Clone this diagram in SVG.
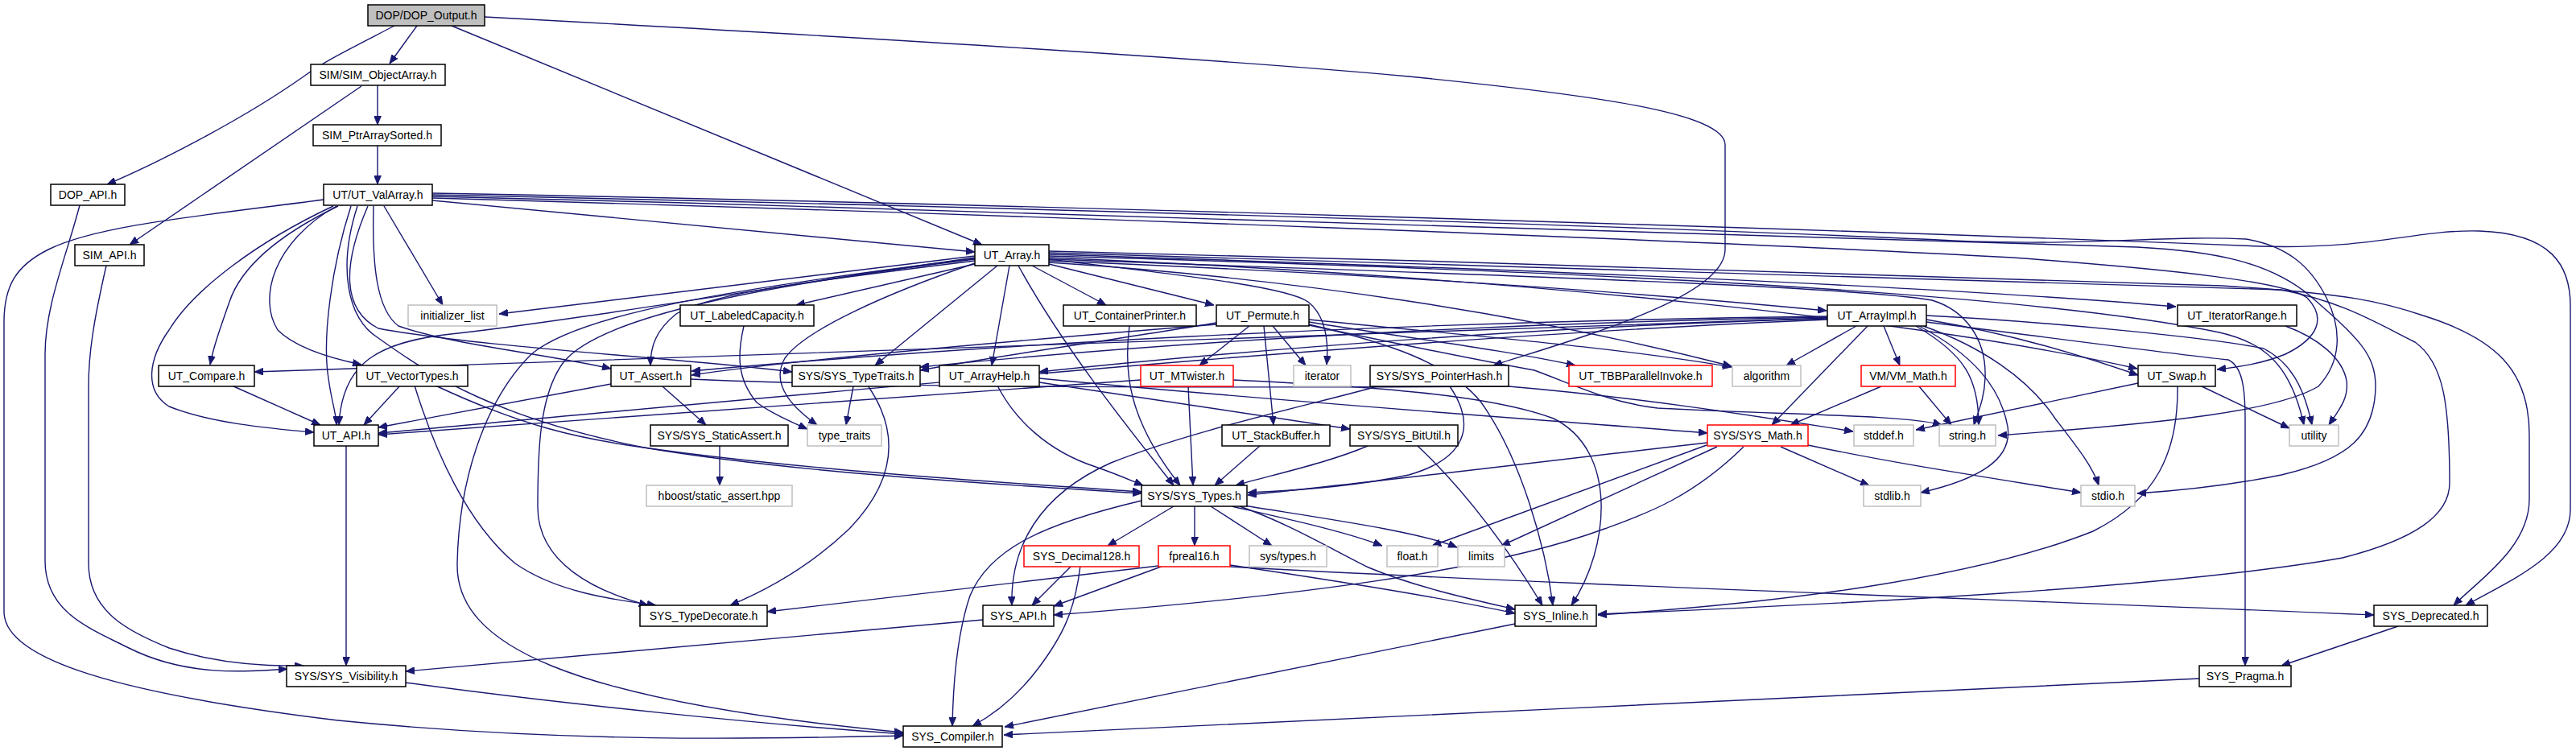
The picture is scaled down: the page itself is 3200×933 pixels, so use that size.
<svg xmlns="http://www.w3.org/2000/svg" width="3200" height="933" viewBox="0 0 3200 933">
<defs>
<marker id="arr" viewBox="0 0 11 9" refX="11" refY="4.5" markerWidth="11" markerHeight="9" orient="auto" markerUnits="userSpaceOnUse"><path d="M0,0 L11,4.5 L0,9 z" fill="#191970" stroke="#191970" stroke-width="0.8"/></marker>
</defs>
<style>
.e path{fill:none;stroke:#191970;stroke-width:1.4;marker-end:url(#arr)}
.n rect{fill:#ffffff;stroke:#000000;stroke-width:1.5}
.n.root rect{fill:#bfbfbf}
.n.g rect{stroke:#bfbfbf}
.n.r rect{stroke:#ff0000}
.n text{font-family:"Liberation Sans",Arial,sans-serif;font-size:14px;text-anchor:middle;fill:#000}
</style>
<rect width="3200" height="933" fill="#ffffff"/>
<g id="edges" class="e">
<path d="M518,32 L484,79"/>
<path d="M490,32 C440,58 405,75 380,93 C300,150 190,205 133,229"/>
<path d="M561,32 L1220,304"/>
<path d="M602,21 C1100,48 1500,72 1750,95 C1980,118 2143,140 2143,180 L2143,310 C2143,370 1960,420 1855,454"/>
<path d="M469,106 L469,155"/>
<path d="M449,107 L161,304"/>
<path d="M469,181 L469,229"/>
<path d="M99,255 C82,320 56,380 56,440 L56,697 C56,760 110,780 160,805 C230,840 300,835 357,831"/>
<path d="M132,330 C116,400 110,440 110,480 L110,700 C110,760 160,785 210,805 C270,825 330,828 377,827"/>
<path d="M402,248 C250,268 120,280 60,310 C20,330 5,355 5,400 L5,760 C5,820 150,862 420,895 C720,925 980,917 1122,914"/>
<path d="M420,256 C350,290 300,330 285,375 C272,412 265,432 261,453"/>
<path d="M414,256 C320,300 240,360 210,410 C185,445 178,485 210,505 C260,525 330,532 390,537"/>
<path d="M418,256 C340,300 320,370 345,410 C370,435 420,447 449,453"/>
<path d="M436,256 C412,330 400,420 408,470 C412,500 418,515 418,528"/>
<path d="M477,256 L550,379"/>
<path d="M537,249 L1211,313"/>
<path d="M464,256 C462,330 468,385 495,405 C560,428 680,440 759,458"/>
<path d="M457,256 C425,330 425,385 470,408 C600,432 850,445 984,462"/>
<path d="M444,256 C420,330 430,395 470,420 C540,470 620,520 800,556 C1000,590 1300,605 1418,613"/>
<path d="M537,240 C1200,252 2200,282 2808,306 C2950,310 3000,285 3080,287 C3170,290 3193,330 3193,380 L3193,633 C3193,690 3120,720 3063,752"/>
<path d="M537,242 C1300,258 2100,283 2450,300 C2600,305 2700,292 2790,297 C2840,305 2870,330 2890,370 C2910,410 2908,450 2880,480 C2830,510 2700,525 2482,541"/>
<path d="M537,244 C1300,262 2100,292 2655,307 C2750,312 2818,325 2869,367 C2930,420 2951,440 2951,480 C2950,540 2920,570 2834,590 C2760,605 2700,610 2655,613"/>
<path d="M537,246 C1300,268 2100,298 2500,320 C2700,335 2840,350 2866,370 C2890,395 2880,420 2839,440 C2810,452 2780,456 2754,459"/>
<path d="M1303,312 C1800,325 2400,340 2760,355 C2920,365 2960,375 3010,392 C3100,420 3142,460 3142,540 L3142,620 C3142,680 3080,720 3048,752"/>
<path d="M1303,314 C1800,330 2300,345 2834,360 C2910,375 2950,400 3000,425 C3035,450 3043,500 3043,600 C3043,640 3000,670 2910,693 C2700,730 2300,750 1985,763"/>
<path d="M1303,316 C1900,335 2400,355 2703,381"/>
<path d="M1303,318 C1900,335 2500,360 2757,413 C2810,425 2845,450 2862,528"/>
<path d="M1303,320 C1900,345 2400,400 2655,458"/>
<path d="M1303,322 C1800,340 2300,355 2400,373 C2440,385 2468,420 2466,470 C2465,495 2458,510 2452,528"/>
<path d="M1303,324 C1700,340 2000,360 2269,386"/>
<path d="M1303,326 C1600,345 1900,390 2151,455"/>
<path d="M1303,322 C1450,340 1597,355 1625,375 C1650,395 1650,430 1648,453"/>
<path d="M1303,328 L1508,379"/>
<path d="M1282,330 L1374,379"/>
<path d="M1265,330 C1320,430 1400,530 1458,603"/>
<path d="M1254,330 L1232,454"/>
<path d="M1239,330 L1087,454"/>
<path d="M1211,327 C1100,365 1000,410 975,445 C955,480 990,510 1015,528"/>
<path d="M1211,328 L989,379"/>
<path d="M1211,324 C1000,350 880,365 840,390 C815,410 808,430 808,454"/>
<path d="M1211,320 C1000,350 700,400 560,415 C470,425 425,450 421,528"/>
<path d="M1211,318 L620,390"/>
<path d="M1211,322 C900,360 740,400 700,450 C670,490 668,560 668,630 C668,700 740,735 805,752"/>
<path d="M1211,321 C900,360 720,390 660,440 C600,500 570,600 568,700 C566,800 700,870 1122,910"/>
<path d="M2306,405 L2219,454"/>
<path d="M2320,405 L2201,528"/>
<path d="M2340,405 L2360,454"/>
<path d="M2380,405 C2440,440 2458,470 2458,528"/>
<path d="M2384,405 C2450,440 2485,480 2494,530 C2500,570 2460,595 2386,612"/>
<path d="M2389,405 C2460,430 2520,470 2553,520 C2580,555 2600,580 2607,603"/>
<path d="M2393,397 C2500,415 2580,440 2656,466"/>
<path d="M2393,400 C2550,420 2700,440 2768,447 C2785,455 2789,480 2789,520 L2789,827"/>
<path d="M2393,392 C2550,400 2750,420 2812,433 C2845,450 2862,480 2872,528"/>
<path d="M2270,397 C1700,420 900,500 470,538"/>
<path d="M2270,395 C1700,410 1000,440 316,462"/>
<path d="M2270,393 C1700,400 1200,430 859,461"/>
<path d="M2270,394 C1800,402 1400,430 1143,456"/>
<path d="M2270,396 C1900,405 1500,440 1291,462"/>
<path d="M1511,403 C1300,420 1000,445 859,466"/>
<path d="M1511,401 C1400,420 1250,440 1143,460"/>
<path d="M1552,405 L1490,454"/>
<path d="M1570,405 L1582,528"/>
<path d="M1581,405 L1622,454"/>
<path d="M1626,397 C1800,415 2000,430 2151,456"/>
<path d="M1626,400 C1750,420 1870,435 1957,454"/>
<path d="M1626,403 C1720,425 1800,450 1840,500 C1890,570 1920,680 1929,752"/>
<path d="M1626,404 C1750,430 1850,450 1906,460 C1960,480 2000,500 2059,507 C2200,515 2370,515 2412,528"/>
<path d="M1403,405 C1396,460 1400,520 1466,603"/>
<path d="M924,405 C916,440 915,470 940,500 C960,515 985,525 1003,533"/>
<path d="M288,479 L398,528"/>
<path d="M497,479 L452,528"/>
<path d="M541,479 C650,530 720,545 800,556 C1000,585 1300,603 1418,611"/>
<path d="M515,479 C540,560 580,650 640,700 C690,735 760,745 815,752"/>
<path d="M823,480 L877,528"/>
<path d="M759,477 L470,531"/>
<path d="M858,471 C1100,482 1500,482 1874,480 C2050,495 2200,520 2302,536"/>
<path d="M1060,480 L1051,528"/>
<path d="M1078,479 C1120,540 1110,600 1055,657 C1010,700 960,730 907,752"/>
<path d="M1239,479 C1260,520 1300,560 1361,580 C1390,590 1405,597 1420,603"/>
<path d="M1291,475 L1677,533"/>
<path d="M1291,470 C1600,500 1900,520 2121,538"/>
<path d="M1476,480 L1482,603"/>
<path d="M1417,472 L470,540"/>
<path d="M1532,472 C1700,480 1850,490 1930,520 C2010,560 2000,680 1952,752"/>
<path d="M1565,554 L1509,603"/>
<path d="M1699,554 C1650,575 1580,590 1535,603"/>
<path d="M1761,554 C1810,600 1860,660 1916,752"/>
<path d="M1801,480 C1835,530 1820,570 1750,590 C1680,605 1600,610 1550,612"/>
<path d="M1715,479 C1620,505 1480,535 1380,575 C1290,615 1255,680 1257,752"/>
<path d="M2121,550 C1900,575 1700,600 1550,615"/>
<path d="M2120,553 L1779,678"/>
<path d="M2133,555 L1865,678"/>
<path d="M2166,555 C2100,620 2040,640 1993,657 C1850,710 1600,742 1309,764"/>
<path d="M2212,555 L2322,603"/>
<path d="M2246,553 C2350,575 2450,590 2585,612"/>
<path d="M2337,480 L2224,528"/>
<path d="M2384,480 L2424,528"/>
<path d="M1458,629 L1376,678"/>
<path d="M1484,629 L1484,678"/>
<path d="M1504,629 L1580,678"/>
<path d="M1418,622 C1300,650 1230,680 1205,740 C1188,790 1184,850 1183,902"/>
<path d="M1530,629 C1600,645 1670,660 1717,678"/>
<path d="M1545,628 C1650,645 1760,660 1810,680"/>
<path d="M1540,629 C1600,650 1650,680 1700,705 C1760,730 1830,745 1882,757"/>
<path d="M1331,703 L1282,752"/>
<path d="M1342,703 C1335,760 1320,790 1290,830 C1260,870 1230,890 1208,902"/>
<path d="M1445,703 L1309,753"/>
<path d="M1439,703 L953,760"/>
<path d="M1528,702 C1650,720 1780,740 1882,762"/>
<path d="M1528,704 C1900,725 2500,745 2949,764"/>
<path d="M1221,770 L504,834"/>
<path d="M430,554 L430,827"/>
<path d="M504,848 C700,875 950,900 1122,912"/>
<path d="M1882,775 L1248,903"/>
<path d="M2732,843 C2300,862 1700,893 1247,913"/>
<path d="M2979,778 L2834,827"/>
<path d="M2656,476 L2380,534"/>
<path d="M2733,479 L2844,532"/>
<path d="M2705,480 C2706,560 2680,620 2600,660 C2450,720 2200,750 1985,764"/>
<path d="M2839,405 C2880,420 2910,445 2915,473 C2918,495 2905,510 2893,528"/>
<path d="M894,554 L894,603"/>
</g>
<g id="n0" class="n root"><rect x="457" y="6" width="145" height="26"/><text x="529.5" y="24">DOP/DOP_Output.h</text></g>
<g id="n1" class="n"><rect x="386" y="80" width="167" height="26"/><text x="469.5" y="98">SIM/SIM_ObjectArray.h</text></g>
<g id="n2" class="n"><rect x="389" y="155" width="159" height="26"/><text x="468.5" y="173">SIM_PtrArraySorted.h</text></g>
<g id="n3" class="n"><rect x="63" y="229" width="92" height="26"/><text x="109" y="247">DOP_API.h</text></g>
<g id="n4" class="n"><rect x="402" y="229" width="135" height="26"/><text x="469.5" y="247">UT/UT_ValArray.h</text></g>
<g id="n5" class="n"><rect x="93" y="304" width="86" height="26"/><text x="136" y="322">SIM_API.h</text></g>
<g id="n6" class="n"><rect x="1211" y="304" width="92" height="26"/><text x="1257" y="322">UT_Array.h</text></g>
<g id="n7" class="n g"><rect x="507" y="379" width="110" height="26"/><text x="562" y="397">initializer_list</text></g>
<g id="n8" class="n"><rect x="845" y="379" width="166" height="26"/><text x="928" y="397">UT_LabeledCapacity.h</text></g>
<g id="n9" class="n"><rect x="1321" y="379" width="165" height="26"/><text x="1403.5" y="397">UT_ContainerPrinter.h</text></g>
<g id="n10" class="n"><rect x="1511" y="379" width="115" height="26"/><text x="1568.5" y="397">UT_Permute.h</text></g>
<g id="n11" class="n"><rect x="2270" y="379" width="123" height="26"/><text x="2331.5" y="397">UT_ArrayImpl.h</text></g>
<g id="n12" class="n"><rect x="2705" y="379" width="148" height="26"/><text x="2779" y="397">UT_IteratorRange.h</text></g>
<g id="n13" class="n"><rect x="197" y="454" width="119" height="26"/><text x="256.5" y="472">UT_Compare.h</text></g>
<g id="n14" class="n"><rect x="443" y="454" width="138" height="26"/><text x="512" y="472">UT_VectorTypes.h</text></g>
<g id="n15" class="n"><rect x="759" y="454" width="99" height="26"/><text x="808.5" y="472">UT_Assert.h</text></g>
<g id="n16" class="n"><rect x="984" y="454" width="159" height="26"/><text x="1063.5" y="472">SYS/SYS_TypeTraits.h</text></g>
<g id="n17" class="n"><rect x="1167" y="454" width="124" height="26"/><text x="1229" y="472">UT_ArrayHelp.h</text></g>
<g id="n18" class="n r"><rect x="1417" y="454" width="115" height="26"/><text x="1474.5" y="472">UT_MTwister.h</text></g>
<g id="n19" class="n g"><rect x="1607" y="454" width="71" height="26"/><text x="1642.5" y="472">iterator</text></g>
<g id="n20" class="n"><rect x="1702" y="454" width="172" height="26"/><text x="1788" y="472">SYS/SYS_PointerHash.h</text></g>
<g id="n21" class="n r"><rect x="1949" y="454" width="178" height="26"/><text x="2038" y="472">UT_TBBParallelInvoke.h</text></g>
<g id="n22" class="n g"><rect x="2152" y="454" width="85" height="26"/><text x="2194.5" y="472">algorithm</text></g>
<g id="n23" class="n r"><rect x="2312" y="454" width="117" height="26"/><text x="2370.5" y="472">VM/VM_Math.h</text></g>
<g id="n24" class="n"><rect x="2656" y="454" width="96" height="26"/><text x="2704" y="472">UT_Swap.h</text></g>
<g id="n25" class="n"><rect x="390" y="528" width="80" height="26"/><text x="430" y="546">UT_API.h</text></g>
<g id="n26" class="n"><rect x="808" y="528" width="171" height="26"/><text x="893.5" y="546">SYS/SYS_StaticAssert.h</text></g>
<g id="n27" class="n g"><rect x="1003" y="528" width="92" height="26"/><text x="1049" y="546">type_traits</text></g>
<g id="n28" class="n"><rect x="1518" y="528" width="134" height="26"/><text x="1585" y="546">UT_StackBuffer.h</text></g>
<g id="n29" class="n"><rect x="1677" y="528" width="134" height="26"/><text x="1744" y="546">SYS/SYS_BitUtil.h</text></g>
<g id="n30" class="n r"><rect x="2121" y="528" width="125" height="26"/><text x="2183.5" y="546">SYS/SYS_Math.h</text></g>
<g id="n31" class="n g"><rect x="2303" y="528" width="74" height="26"/><text x="2340" y="546">stddef.h</text></g>
<g id="n32" class="n g"><rect x="2409" y="528" width="70" height="26"/><text x="2444" y="546">string.h</text></g>
<g id="n33" class="n g"><rect x="2844" y="528" width="61" height="26"/><text x="2874.5" y="546">utility</text></g>
<g id="n34" class="n g"><rect x="803" y="603" width="181" height="26"/><text x="893.5" y="621">hboost/static_assert.hpp</text></g>
<g id="n35" class="n"><rect x="1418" y="603" width="131" height="26"/><text x="1483.5" y="621">SYS/SYS_Types.h</text></g>
<g id="n36" class="n g"><rect x="2315" y="603" width="71" height="26"/><text x="2350.5" y="621">stdlib.h</text></g>
<g id="n37" class="n g"><rect x="2585" y="603" width="67" height="26"/><text x="2618.5" y="621">stdio.h</text></g>
<g id="n38" class="n r"><rect x="1272" y="678" width="143" height="26"/><text x="1343.5" y="696">SYS_Decimal128.h</text></g>
<g id="n39" class="n r"><rect x="1439" y="678" width="89" height="26"/><text x="1483.5" y="696">fpreal16.h</text></g>
<g id="n40" class="n g"><rect x="1552" y="678" width="96" height="26"/><text x="1600" y="696">sys/types.h</text></g>
<g id="n41" class="n g"><rect x="1723" y="678" width="63" height="26"/><text x="1754.5" y="696">float.h</text></g>
<g id="n42" class="n g"><rect x="1811" y="678" width="58" height="26"/><text x="1840" y="696">limits</text></g>
<g id="n43" class="n"><rect x="795" y="752" width="158" height="26"/><text x="874" y="770">SYS_TypeDecorate.h</text></g>
<g id="n44" class="n"><rect x="1221" y="752" width="88" height="26"/><text x="1265" y="770">SYS_API.h</text></g>
<g id="n45" class="n"><rect x="1882" y="752" width="101" height="26"/><text x="1932.5" y="770">SYS_Inline.h</text></g>
<g id="n46" class="n"><rect x="2949" y="752" width="141" height="26"/><text x="3019.5" y="770">SYS_Deprecated.h</text></g>
<g id="n47" class="n"><rect x="356" y="827" width="148" height="26"/><text x="430" y="845">SYS/SYS_Visibility.h</text></g>
<g id="n48" class="n"><rect x="2732" y="827" width="114" height="26"/><text x="2789" y="845">SYS_Pragma.h</text></g>
<g id="n49" class="n"><rect x="1122" y="902" width="123" height="26"/><text x="1183.5" y="920">SYS_Compiler.h</text></g>
</svg>
